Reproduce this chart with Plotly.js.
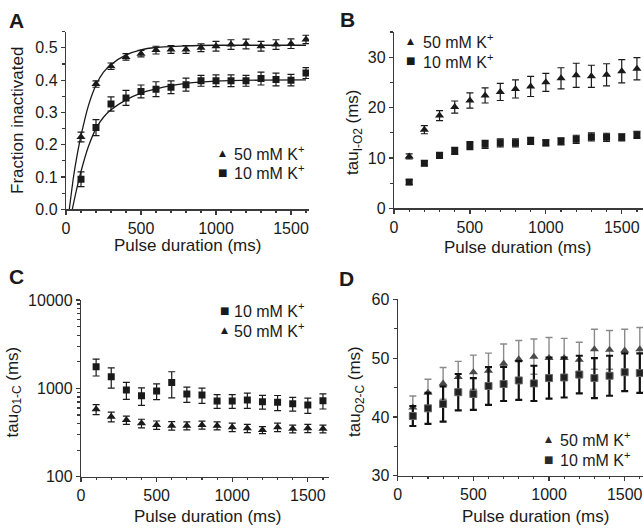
<!DOCTYPE html>
<html>
<head>
<meta charset="utf-8">
<script src="https://cdn.plot.ly/plotly-3.0.1.min.js"></script>
<style>html,body{margin:0;padding:0;background:#fff;}#chart{width:643px;height:529px;}</style>
</head>
<body>
<div id="chart"></div>
<script>
// ---------- data ----------
const pulse = [100,200,300,400,500,600,700,800,900,1000,1100,1200,1300,1400,1500,1600];

// Panel A: fraction inactivated
const A50    = [0.224,0.388,0.443,0.472,0.482,0.493,0.495,0.495,0.500,0.505,0.510,0.512,0.505,0.510,0.513,0.526];
const A50err = [0.015,0.010,0.010,0.010,0.010,0.012,0.012,0.012,0.012,0.015,0.015,0.015,0.015,0.015,0.015,0.013];
const A10    = [0.093,0.253,0.326,0.345,0.365,0.372,0.378,0.386,0.398,0.398,0.398,0.398,0.405,0.402,0.400,0.422];
const A10err = [0.023,0.025,0.022,0.023,0.020,0.023,0.020,0.020,0.017,0.018,0.018,0.017,0.020,0.020,0.018,0.017];
// fitted curves, points
const fitX50 = [22,50,75,100,150,200,250,300,400,500,600,800,1000,1300,1600];
const fit50  = [0.0,0.10,0.17,0.228,0.322,0.385,0.425,0.448,0.478,0.494,0.501,0.506,0.508,0.508,0.508];
const fitX10 = [42,70,100,150,200,250,300,400,500,600,700,800,1000,1300,1600];
const fit10  = [0.0,0.06,0.117,0.195,0.250,0.285,0.308,0.339,0.360,0.373,0.383,0.390,0.397,0.400,0.401];

// Panel B: tau I-O2 (ms)
const B50    = [10.3,15.6,18.4,20.1,21.4,22.4,23.1,23.7,24.2,25.0,25.8,26.4,26.2,26.5,27.2,27.7];
const B50err = [0.5,0.8,1.0,1.2,1.5,1.5,1.7,1.8,2.0,1.8,2.1,2.4,2.2,2.2,2.3,2.2];
const B10    = [5.2,8.95,10.5,11.4,12.45,12.7,13.0,13.0,13.4,13.0,13.3,13.7,14.2,14.1,14.1,14.6];
const B10err = [0.5,0.5,0.6,0.7,0.8,0.8,0.8,0.8,0.7,0.6,0.7,0.8,0.8,0.8,0.7,0.7];

// Panel C: tau O1-C (ms), log axis
const C10    = [1760,1357,959,826,935,1161,864,841,720,720,739,707,695,671,649,726];
const C10err = [380,350,210,185,190,380,170,165,127,127,145,125,135,118,128,142];
const C50    = [580,478,439,402,385,378,378,385,378,363,353,338,363,348,353,348];
const C50err = [75,60,47,45,42,42,40,40,40,40,38,30,40,35,38,35];

// Panel D: tau O2-C (ms)
const D50    = [41.6,44.1,45.7,46.8,47.6,47.85,49.1,49.8,50.25,50.0,50.0,49.7,51.5,51.4,51.3,51.5];
const D50err = [1.95,2.3,2.7,2.65,2.9,3.0,3.3,3.2,3.0,3.5,3.35,3.0,3.4,3.3,3.6,3.7];
const D10    = [40.15,41.45,42.2,44.2,43.9,45.25,45.6,46.2,45.7,46.6,46.7,47.2,46.6,47.0,47.6,47.45];
const D10err = [1.7,2.65,3.0,3.1,2.7,3.2,2.9,3.3,3.0,3.5,3.4,3.2,3.4,3.4,3.2,3.35];

const lab50 = '50 mM K<sup>+</sup>';
const lab10 = '10 mM K<sup>+</sup>';

// ---------- styling ----------
const FONT = 'Liberation Sans, Arial, sans-serif';
const INK = '#1a1a1a';
const AX = '#3a3a3a';

function pts(x, y, err, sym, size, col, xa, ya, ecol, ethick) {
  return {
    type: 'scatter', mode: 'markers', x: x, y: y, xaxis: xa, yaxis: ya,
    showlegend: false, cliponaxis: true,
    marker: {symbol: sym, size: size, color: col, line: {width: 0}},
    error_y: {type: 'data', array: err, visible: true, color: ecol || col,
              thickness: ethick || 1.2, width: 3.5}
  };
}
function curve(x, y, xa, ya) {
  return {type: 'scatter', mode: 'lines', x: x, y: y, xaxis: xa, yaxis: ya,
          showlegend: false, line: {color: INK, width: 1.3, shape: 'spline', smoothing: 0.6},
          hoverinfo: 'skip'};
}

const traces = [
  curve(fitX50, fit50, 'x', 'y'),
  curve(fitX10, fit10, 'x', 'y'),
  pts(pulse, A50, A50err, 'triangle-up', 8, INK, 'x', 'y'),
  pts(pulse, A10, A10err, 'square', 7, INK, 'x', 'y'),
  pts(pulse, B50, B50err, 'triangle-up', 8, INK, 'x2', 'y2'),
  pts(pulse, B10, B10err, 'square', 7, INK, 'x2', 'y2'),
  pts(pulse, C10, C10err, 'square', 7, INK, 'x3', 'y3'),
  pts(pulse, C50, C50err, 'triangle-up', 8, INK, 'x3', 'y3'),
  pts(pulse, D50, D50err, 'triangle-up', 8, '#4a4a4a', 'x4', 'y4', '#8a8a8a', 1.4),
  pts(pulse, D10, D10err, 'square', 7, '#222222', 'x4', 'y4', '#111111', 2.2)
];
// square outline in D is lighter
traces[9].marker.line = {width: 1, color: '#666'};

function xax(domain, range, anchor) {
  return {domain: domain, range: range, anchor: anchor, showgrid: false, zeroline: false,
          showline: true, linecolor: AX, linewidth: 1.2, ticks: 'outside', ticklen: 4,
          tickcolor: AX, tickwidth: 1.2, tickvals: [0,500,1000,1500],
          minor: {dtick: 100, tick0: 0, ticklen: 2.5, tickcolor: AX, ticks: 'outside'},
          tickfont: {family: FONT, size: 16, color: INK}, fixedrange: true};
}
function yax(domain, range, anchor, dtick, minorDtick, fmt) {
  const o = {domain: domain, range: range, anchor: anchor, showgrid: false, zeroline: false,
          showline: true, linecolor: AX, linewidth: 1.2, ticks: 'outside', ticklen: 4,
          tickcolor: AX, tickwidth: 1.2, dtick: dtick, tick0: 0,
          minor: {dtick: minorDtick, ticklen: 2.5, tickcolor: AX, ticks: 'outside'},
          tickfont: {family: FONT, size: 16, color: INK}, fixedrange: true};
  if (fmt) o.tickformat = fmt;
  return o;
}

const W = 643, H = 529;
const px = v => v / W;
const py = v => 1 - v / H;

const layout = {
  width: W, height: H, margin: {l: 0, r: 0, t: 0, b: 0},
  paper_bgcolor: '#fff', plot_bgcolor: 'rgba(0,0,0,0)', showlegend: false,
  font: {family: FONT, color: INK},
  xaxis: xax([px(66), px(309)], [0, 1620], 'y'),
  yaxis: yax([py(209.3), py(31.7)], [0, 0.55], 'x', 0.1, 0.05, '.1f'),
  xaxis2: xax([px(394), 1], [0, 1640], 'y2'),
  yaxis2: yax([py(208.3), py(32)], [0, 35], 'x2', 10, 5),
  xaxis3: xax([px(81), px(329)], [0, 1640], 'y3'),
  yaxis3: {domain: [py(476.7), py(300)], range: [2, 4], type: 'log', anchor: 'x3',
           showgrid: false, zeroline: false, showline: true, linecolor: AX, linewidth: 1.2,
           ticks: 'outside', ticklen: 4, tickcolor: AX, tickwidth: 1.2,
           tickvals: [100, 1000, 10000], ticktext: ['100', '1000', '10000'],
           minor: {tickvals: [200,300,400,500,600,700,800,900,2000,3000,4000,5000,6000,7000,8000,9000],
                   ticklen: 2.5, tickcolor: AX, ticks: 'outside'},
           tickfont: {family: FONT, size: 16, color: INK}, fixedrange: true},
  xaxis4: xax([px(397.7), 1], [0, 1621], 'y4'),
  yaxis4: yax([py(475.7), py(299.3)], [30, 60], 'x4', 10, 5),
  annotations: []
};

function ann(text, x, y, opts) {
  return Object.assign({text: text, x: px(x), y: py(y), xref: 'paper', yref: 'paper',
    showarrow: false, xanchor: 'center', yanchor: 'middle',
    font: {family: FONT, size: 17, color: INK}}, opts || {});
}
const A = layout.annotations;
// panel letters
const letterFont = {family: FONT, size: 21, color: INK, weight: 'bold'};
A.push(ann('<b>A</b>', 16.5, 20, {font: letterFont}));
A.push(ann('<b>B</b>', 347.5, 19, {font: letterFont}));
A.push(ann('<b>C</b>', 16.7, 276, {font: letterFont}));
A.push(ann('<b>D</b>', 346.5, 278, {font: letterFont}));
// axis titles
A.push(ann('Pulse duration (ms)', 187, 245));
A.push(ann('Pulse duration (ms)', 517, 247));
A.push(ann('Pulse duration (ms)', 207, 516));
A.push(ann('Pulse duration (ms)', 535, 516));
A.push(ann('Fraction inactivated', 18, 121, {textangle: -90}));
A.push(ann('tau<sub>I-O2</sub> (ms)', 354, 132, {textangle: -90}));
A.push(ann('tau<sub>O1-C</sub> (ms)', 13.5, 392, {textangle: -90}));
A.push(ann('tau<sub>O2-C</sub> (ms)', 356, 392, {textangle: -90}));
// legends
const legFont = {family: FONT, size: 16, color: INK};
function legend(sym, label, sx, sy, tx, col) {
  A.push(ann(sym, sx, sy, {font: {family: 'DejaVu Sans', size: sym === '▲' ? 9 : 10, color: col || INK}}));
  A.push(ann(label, tx, sy, {xanchor: 'left', font: legFont}));
}
legend('▲', lab50, 223, 153, 232);
legend('■', lab10, 223, 172, 232);
legend('▲', lab50, 410, 41.5, 420.5);
legend('■', lab10, 410, 61, 420.5);
legend('■', lab10, 224, 310, 232);
legend('▲', lab50, 224, 330, 232);
legend('▲', lab50, 548.3, 439.3, 558, '#2a2a2a');
legend('■', lab10, 548.3, 459.3, 558, '#2a2a2a');

Plotly.newPlot('chart', traces, layout, {staticPlot: true, displayModeBar: false});
</script>
</body>
</html>
